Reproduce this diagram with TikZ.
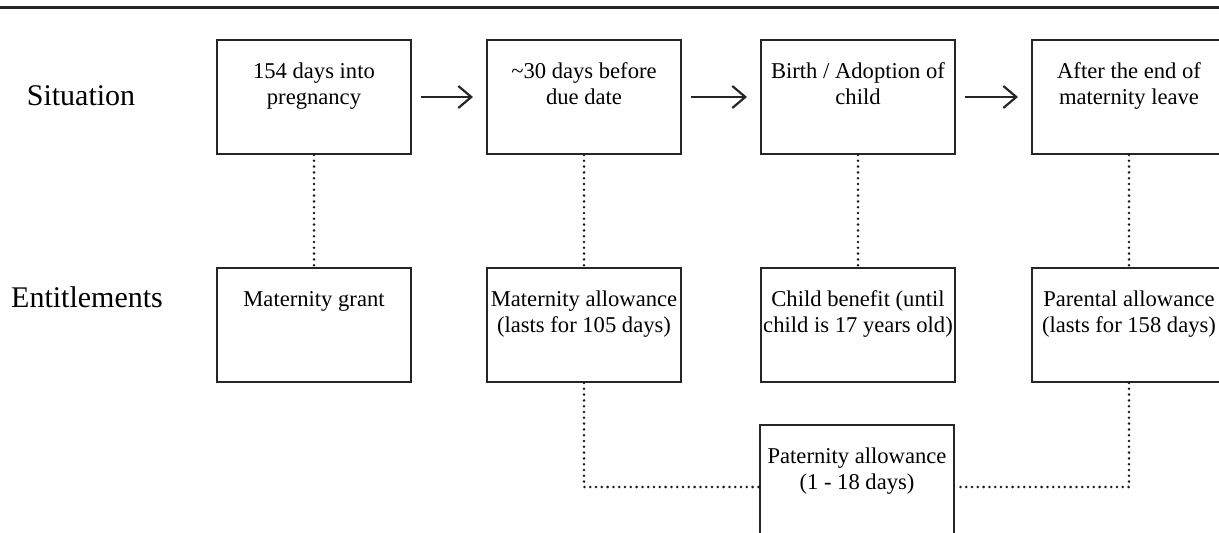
\documentclass[tikz,border=0pt]{standalone}
\usepackage{fontspec}
\setmainfont{Liberation Serif}
\usetikzlibrary{arrows.meta}

\newcommand{\boxtxt}[1]{\parbox[c][57pt][t]{97pt}{\centering\rule{0pt}{19.5pt}#1}}

\begin{document}
\begin{tikzpicture}[
  x=0.5pt, y=-0.5pt,
  stage/.style={draw=black!85, line width=1pt, rectangle, inner sep=0pt,
                font=\fontsize{11.3}{12.8}\selectfont},
  rowlab/.style={font=\fontsize{15}{17}\selectfont, anchor=base},
  flow/.style={draw=black!85, line width=1.1pt,
               -{Straight Barb[length=6.5pt,width=11pt,line width=1.1pt]},
               shorten <=4.5pt, shorten >=6.5pt},
  link/.style={draw=black!90, line width=1.4pt, line cap=round,
               dash pattern=on 0pt off 2.9pt},
]
  \useasboundingbox (0,0) rectangle (1219,533);
  \draw[black!85, line width=1.5pt] (0,8) -- (1219,8);

  \node[rowlab] (lsit) at (81,106) {Situation};
  \node[rowlab] (lent) at (87,308) {Entitlements};

  \node[stage] (s1) at (314,97) {\boxtxt{154 days into\\pregnancy}};
  \node[stage] (s2) at (584,97) {\boxtxt{\textasciitilde30 days before\\due date}};
  \node[stage] (s3) at (858,97) {\boxtxt{Birth / Adoption of\\child}};
  \node[stage] (s4) at (1129,97) {\boxtxt{After the end of\\maternity leave}};

  \node[stage] (e1) at (314,325) {\boxtxt{Maternity grant}};
  \node[stage] (e2) at (584,325) {\boxtxt{Maternity allowance\\(lasts for 105 days)}};
  \node[stage] (e3) at (858,325) {\boxtxt{Child benefit (until\\child is 17 years old)}};
  \node[stage] (e4) at (1129,325) {\boxtxt{Parental allowance\\(lasts for 158 days)}};

  \node[stage] (pat) at (857,482) {\boxtxt{Paternity allowance\\(1 - 18 days)}};

  \draw[flow] (s1) -- (s2);
  \draw[flow] (s2) -- (s3);
  \draw[flow] (s3) -- (s4);

  \draw[link] (s1) -- (e1);
  \draw[link] (s2) -- (e2);
  \draw[link] (s3) -- (e3);
  \draw[link] (s4) -- (e4);
  \draw[link] (e2) |- ([yshift=-2.5pt]pat.west);
  \draw[link] (e4) |- ([yshift=-2.5pt]pat.east);
\end{tikzpicture}
\end{document}
